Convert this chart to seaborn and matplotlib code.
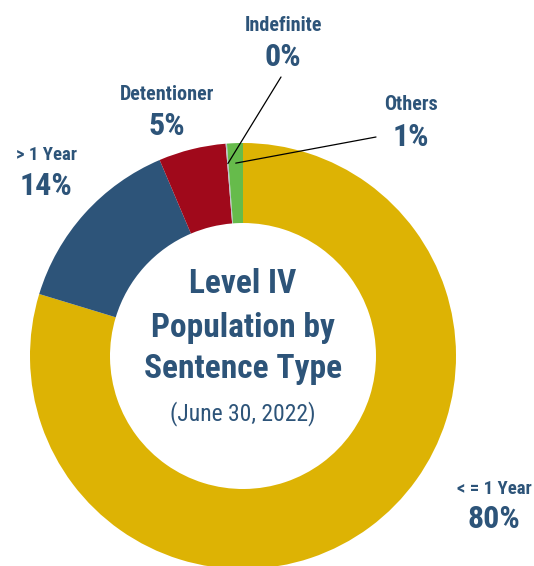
import matplotlib
matplotlib.use("Agg")
import matplotlib.pyplot as plt
from matplotlib import font_manager
import numpy as np
import seaborn as sns

# Level IV population by sentence type (June 30, 2022), percent of population
categories = ["< = 1 Year", "> 1 Year", "Detentioner", "Indefinite", "Others"]
shares = [79.7, 13.9, 5.1, 0.1, 1.2]
pct_labels = ["80%", "14%", "5%", "0%", "1%"]
colors = ["#DDB304", "#2D5479", "#A0091B", "#B9C3CC", "#66BB4B"]

title_lines = ["Level IV", "Population by", "Sentence Type"]
date_line = "(June 30, 2022)"

sns.set_theme(style="white")
installed = {f.name for f in font_manager.fontManager.ttflist}
family = "DejaVu Sans"
for cand in ["Roboto Condensed", "Liberation Sans Narrow", "Roboto"]:
    if cand in installed:
        family = cand
        break
plt.rcParams["font.family"] = [family, "DejaVu Sans"]
text_color = "#2D5479"

W, H = 534, 566
fig = plt.figure(figsize=(W / 100, H / 100), dpi=100)
ax = fig.add_axes([0, 0, 1, 1])

cx, cy = 243, H - 356
r_out, r_in = 213, 133
wedges, _ = ax.pie(shares, colors=colors, startangle=90, counterclock=False,
                   center=(cx, cy), radius=r_out, frame=True,
                   wedgeprops=dict(width=r_out - r_in, linewidth=0))
ax.set_xlim(0, W)
ax.set_ylim(0, H)
ax.set_aspect("equal")
ax.axis("off")

# label positions (pixel coords from top-left): x, name baseline, pct baseline
label_pos = {
    "< = 1 Year": (494, 494, 528),
    "> 1 Year": (46, 160, 195),
    "Detentioner": (167, 100, 135),
    "Indefinite": (283, 31, 66),
    "Others": (411, 110, 146),
}
for cat, pct in zip(categories, pct_labels):
    x, yn, yp = label_pos[cat]
    fs = 13.5 if "Year" in cat else 14.5
    ax.text(x, H - yn, cat, ha="center", va="baseline", fontsize=fs,
            fontweight="bold", color=text_color)
    ax.text(x, H - yp, pct, ha="center", va="baseline", fontsize=23,
            fontweight="bold", color=text_color)

# leader lines for the thin slices
leaders = {"Indefinite": (281, 77), "Others": (376, 137)}
for cat, (lx, ly) in leaders.items():
    w = wedges[categories.index(cat)]
    mid = np.radians((w.theta1 + w.theta2) / 2)
    ex, ey = cx + 193 * np.cos(mid), cy + 193 * np.sin(mid)
    ax.plot([lx, ex], [H - ly, ey], color="black", lw=0.9)

for txt, base in zip(title_lines, [293, 337, 378]):
    ax.text(cx, H - base, txt, ha="center", va="baseline", fontsize=24,
            fontweight="bold", color=text_color)
ax.text(cx, H - 420, date_line, ha="center", va="baseline", fontsize=17,
        color=text_color)

fig.savefig("out.png", dpi=100)
